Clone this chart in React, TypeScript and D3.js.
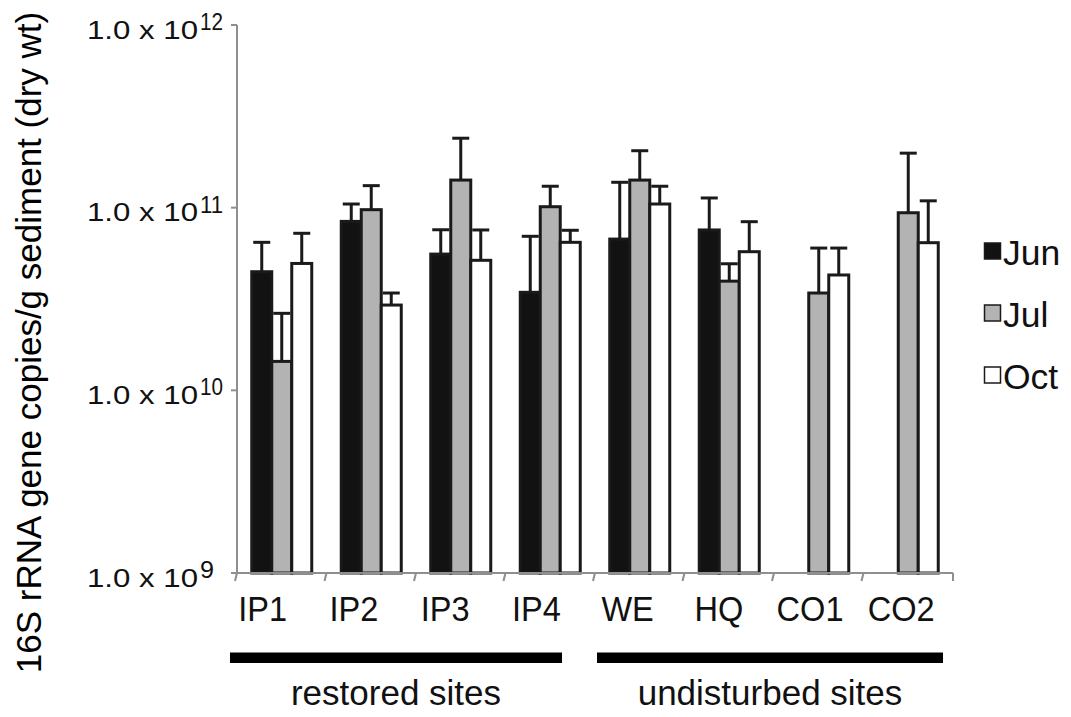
import React from "react";
import * as d3 from "d3";

const categories = ["IP1", "IP2", "IP3", "IP4", "WE", "HQ", "CO1", "CO2"];
const seriesNames = ["Jun", "Jul", "Oct"];
const junValues: (number | null)[] = [4.46e10, 8.41e10, 5.57e10, 3.44e10, 6.73e10, 7.55e10, null, null];
const junErrors: (number | null)[] = [2.0e10, 2.06e10, 2.0e10, 3.53e10, 7.04e10, 3.75e10, null, null];
const julValues: (number | null)[] = [1.44e10, 9.75e10, 1.416e11, 1.012e11, 1.416e11, 3.96e10, 3.41e10, 9.38e10];
const julErrors: (number | null)[] = [1.2e10, 3.45e10, 9.84e10, 2.98e10, 6.34e10, 9.7e9, 2.6e10, 1.05e11];
const octValues: (number | null)[] = [4.95e10, 2.93e10, 5.15e10, 6.46e10, 1.047e11, 5.74e10, 4.28e10, 6.43e10];
const octErrors: (number | null)[] = [2.29e10, 4.8e9, 2.4e10, 1.06e10, 2.63e10, 2.64e10, 1.73e10, 4.47e10];
const yTickExponents = [9, 10, 11, 12];
const groups = [
  { label: "restored sites", first: "IP1", last: "IP4" },
  { label: "undisturbed sites", first: "WE", last: "CO2" },
];
const yTitle = "16S rRNA gene copies/g sediment (dry wt)";

const FONT = "Liberation Sans, Arimo, Arial, sans-serif";
const fills = ["#121212", "#b3b3b3", "#ffffff"];
const axisColor = "#8f8f8f";
const ink = "#1a1a1a";

export default function App() {
  const W = 1071, H = 717;
  const left = 237, right = 953, top = 25, bottom = 573;

  const y = d3.scaleLog().domain([1e9, 1e12]).range([bottom, top]);
  const x = d3.scaleBand<string>().domain(categories).range([left, right]).padding(0);
  const band = x.bandwidth();
  const barW = 20;
  const inner = d3
    .scaleBand<string>()
    .domain(seriesNames)
    .range([(band - 3 * barW) / 2, (band + 3 * barW) / 2])
    .padding(0);
  const firstC = (x(categories[0]) as number) + band / 2;
  const lastC = (x(categories[categories.length - 1]) as number) + band / 2;
  const xLabel = d3.scalePoint<string>().domain(categories).range([firstC - 19, lastC - 7]);

  const seriesData = [
    { name: "Jun", values: junValues, errors: junErrors },
    { name: "Jul", values: julValues, errors: julErrors },
    { name: "Oct", values: octValues, errors: octErrors },
  ];

  const bars: JSX.Element[] = [];
  const errs: JSX.Element[] = [];
  seriesData.forEach((s, si) => {
    categories.forEach((c, ci) => {
      const v = s.values[ci];
      if (v == null) return;
      const x0 = (x(c) as number) + (inner(s.name) as number);
      const yTop = y(v);
      bars.push(
        <rect
          key={`b-${si}-${ci}`}
          x={x0}
          y={yTop}
          width={inner.bandwidth()}
          height={bottom - yTop}
          fill={fills[si]}
          stroke={ink}
          strokeWidth={3}
        />
      );
      const e = s.errors[ci];
      if (e != null) {
        const cx = x0 + inner.bandwidth() / 2;
        const yE = y(v + e);
        errs.push(
          <g key={`e-${si}-${ci}`} stroke={ink} strokeWidth={3}>
            <line x1={cx} x2={cx} y1={yTop} y2={yE} />
            <line x1={cx - 8.5} x2={cx + 8.5} y1={yE} y2={yE} />
          </g>
        );
      }
    });
  });

  const boundaries = categories.map((c) => x(c) as number).concat([right]);

  return (
    <svg
      width={W}
      height={H}
      viewBox={`0 0 ${W} ${H}`}
      style={{ position: "absolute", left: 0, top: 0, background: "#fff", fontFamily: FONT }}
    >
      <rect x={0} y={0} width={W} height={H} fill="#fff" />

      {/* Y axis title */}
      <text
        transform={`translate(41, ${(10 + 675) / 2}) rotate(-90)`}
        textAnchor="middle"
        style={{ fontFamily: FONT, fontSize: "35px" }}
        fill="#000"
      >
        {yTitle}
      </text>

      {/* Y tick labels */}
      {yTickExponents.map((p) => {
        const ty = y(Math.pow(10, p));
        const expW = String(p).length === 1 ? 14 : 23;
        return (
          <g key={`yt-${p}`}>
            <text
              x={87}
              y={ty + 13.5}
              textLength={111}
              lengthAdjust="spacingAndGlyphs"
              fill="#111"
              style={{ fontFamily: FONT, fontSize: "26.5px" }}
            >
              1.0 x 10
            </text>
            <text
              x={200}
              y={ty + 5}
              textLength={expW}
              lengthAdjust="spacingAndGlyphs"
              fill="#111"
              style={{ fontFamily: FONT, fontSize: "24px" }}
            >
              {p}
            </text>
          </g>
        );
      })}

      {bars}
      {errs}

      {/* Axes */}
      <g stroke={axisColor} strokeWidth={2} fill="none">
        <line x1={left} x2={left} y1={top} y2={bottom + 1} />
        {yTickExponents.map((p) => {
          const ty = y(Math.pow(10, p));
          return <line key={`ytk-${p}`} x1={left - 6} x2={left} y1={ty} y2={ty} />;
        })}
        <line x1={left} x2={right} y1={bottom} y2={bottom} />
        {boundaries.map((bx, i) =>
          i === boundaries.length - 1 ? (
            <line key={`xt-${i}`} x1={bx} x2={bx} y1={bottom} y2={bottom + 8} />
          ) : (
            <line key={`xt-${i}`} x1={bx} x2={bx - 2} y1={bottom} y2={bottom + 8} />
          )
        )}
      </g>

      {/* X labels */}
      {categories.map((c) => (
        <g key={`xl-${c}`} transform={`translate(${xLabel(c)}, 621) scale(0.93, 1)`}>
          <text x={0} y={0} textAnchor="middle" fill="#111" style={{ fontFamily: FONT, fontSize: "35px" }}>
            {c}
          </text>
        </g>
      ))}

      {/* Group bars and labels */}
      {groups.map((g, gi) => {
        const x0 = (x(g.first) as number) + (gi === 0 ? -7 : 2);
        const x1 = (x(g.last) as number) + band + (gi === 0 ? -33 : -10);
        return (
          <g key={`g-${gi}`}>
            <rect x={x0} y={652.5} width={x1 - x0} height={10.5} fill="#000" />
            <text
              x={(x0 + x1) / 2}
              y={705}
              textAnchor="middle"
              fill="#111"
              style={{ fontFamily: FONT, fontSize: "35px" }}
            >
              {g.label}
            </text>
          </g>
        );
      })}

      {/* Legend */}
      {seriesNames.map((s, i) => {
        const cy = 251 + i * 62;
        return (
          <g key={`lg-${s}`}>
            <rect x={984.5} y={cy - 8} width={16} height={16} fill={fills[i]} stroke={ink} strokeWidth={1.5} />
            <text x={1003} y={cy + 13.5} fill="#111" style={{ fontFamily: FONT, fontSize: "35.5px" }}>
              {s}
            </text>
          </g>
        );
      })}
    </svg>
  );
}
